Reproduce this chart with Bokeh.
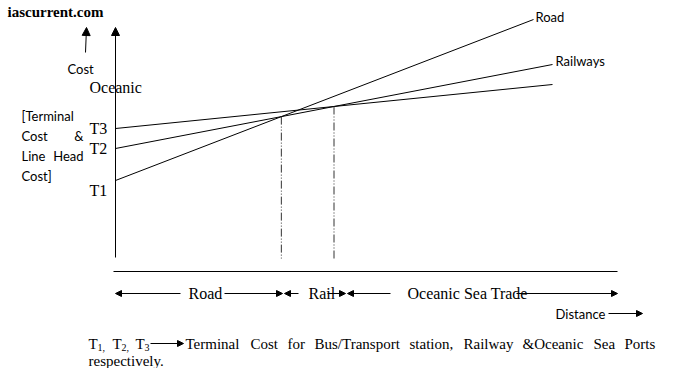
from bokeh.plotting import figure
from bokeh.models import Range1d, Arrow, NormalHead
from bokeh.core.properties import value
from bokeh.embed import file_html
from bokeh.resources import INLINE

# ---- data (cost vs distance, arbitrary units) ----
modes = ["Road", "Railways", "Oceanic"]
terminal_labels = ["T1", "T2", "T3"]
terminal_cost = [90, 122, 142]
end_distance = [418, 437, 437]
end_cost = [251, 206, 186]
zone_labels = ["Road", "Rail", "Oceanic Sea Trade"]

# ---- layout helpers (pixel -> data units) ----
OX, OY = 115, 270
def X(px):
    return px - OX
def Y(py):
    return OY - py

W, H = 674, 368
SERIF = value("Liberation Serif")
SANS = value("Lato")

p = figure(width=W, height=H,
           x_range=Range1d(X(0), X(W)), y_range=Range1d(Y(H), Y(0)),
           output_backend="svg", toolbar_location=None, min_border=0,
           x_axis_type=None, y_axis_type=None, outline_line_color=None)
p.grid.visible = False

def txt(x, y, s, font=SERIF, size="16px", style="normal", align="left"):
    p.text(x=[x], y=[y], text=[s], text_font=font, text_font_size=size,
           text_font_style=style, text_baseline="middle", text_align=align,
           text_color="black")

def arrow(x0, y0, x1, y1, size=6, width=1):
    p.add_layout(Arrow(x_start=x0, y_start=y0, x_end=x1, y_end=y1,
                       line_color="black", line_width=width,
                       end=NormalHead(size=size, fill_color="black", line_color="black", line_width=1)))

# ---- cost lines ----
p.segment(x0=[0] * 3, y0=terminal_cost, x1=end_distance, y1=end_cost,
          line_color="black", line_width=1)

slopes = [(e - t) / d for t, e, d in zip(terminal_cost, end_cost, end_distance)]
bx, by = [], []
for i, j in [(0, 1), (1, 2)]:
    d = (terminal_cost[j] - terminal_cost[i]) / (slopes[i] - slopes[j])
    bx.append(d)
    by.append(terminal_cost[i] + slopes[i] * d)
p.segment(x0=bx, y0=by, x1=bx, y1=[Y(258)] * 2, line_color="#333333",
          line_width=1, line_dash="8 2 1 2 1 2")

# line end labels
p.text(x=[end_distance[0] + 2, end_distance[1] + 3],
       y=[end_cost[0] + 3, end_cost[1] + 4], text=[modes[0], modes[1]],
       text_font=SANS, text_font_size="13px", text_baseline="middle", text_color="black")

# ---- axes ----
arrow(0, Y(257), 0, Y(27), size=8)
p.segment(x0=[X(113)], y0=[Y(271)], x1=[X(617)], y1=[Y(271)], line_color="black", line_width=1.2)
arrow(X(85), Y(52), X(86), Y(27), size=8)

# ---- left texts ----
txt(X(7), Y(11), "iascurrent.com", size="15px", style="bold")
txt(X(67), Y(68), "Cost", font=SANS, size="13px")
txt(X(89), Y(87), "Oceanic")
p.text(x=[X(89)] * 3, y=[Y(190), Y(148), Y(128)], text=terminal_labels,
       text_font=SERIF, text_font_size="16px", text_baseline="middle", text_color="black")
txt(X(21), Y(115), "[Terminal", font=SANS, size="13px")
txt(X(21), Y(135), "Cost", font=SANS, size="13px")
txt(X(83), Y(135), "&", font=SANS, size="13px", align="right")
txt(X(21), Y(155), "Line", font=SANS, size="13px")
txt(X(83), Y(155), "Head", font=SANS, size="13px", align="right")
txt(X(21), Y(175), "Cost]", font=SANS, size="13px")

# ---- zone arrows ----
ay = Y(293)
arrow(X(180), ay, X(115), ay)
txt(X(188), ay, zone_labels[0])
arrow(X(224), ay, X(282), ay)
arrow(X(298), ay, X(284), ay)
txt(X(308), ay, zone_labels[1])
arrow(X(327), ay, X(345), ay)
arrow(X(390), ay, X(347), ay)
txt(X(407), ay, zone_labels[2])
arrow(X(516), ay, X(617), ay)

txt(X(555), Y(313), "Distance", font=SANS, size="13px")
arrow(X(608), Y(313), X(642), Y(313))

# ---- footnote ----
fy = Y(343)
for xs, n in [(88, "1,"), (112, "2,"), (135, "3")]:
    txt(X(xs), fy, "T", size="15px")
    txt(X(xs + 9), fy - 4, n, size="10px")
arrow(X(150), fy, X(183), fy)
words = [("Terminal", 185), ("Cost", 250), ("for", 287), ("Bus/Transport", 314),
         ("station,", 409), ("Railway", 463), ("&Oceanic", 522), ("Sea", 593), ("Ports", 624)]
for w, xs in words:
    txt(X(xs), fy, w, size="15px")
txt(X(88), Y(360), "respectively.", size="15px")

open("out.html", "w").write(file_html(p, INLINE))
